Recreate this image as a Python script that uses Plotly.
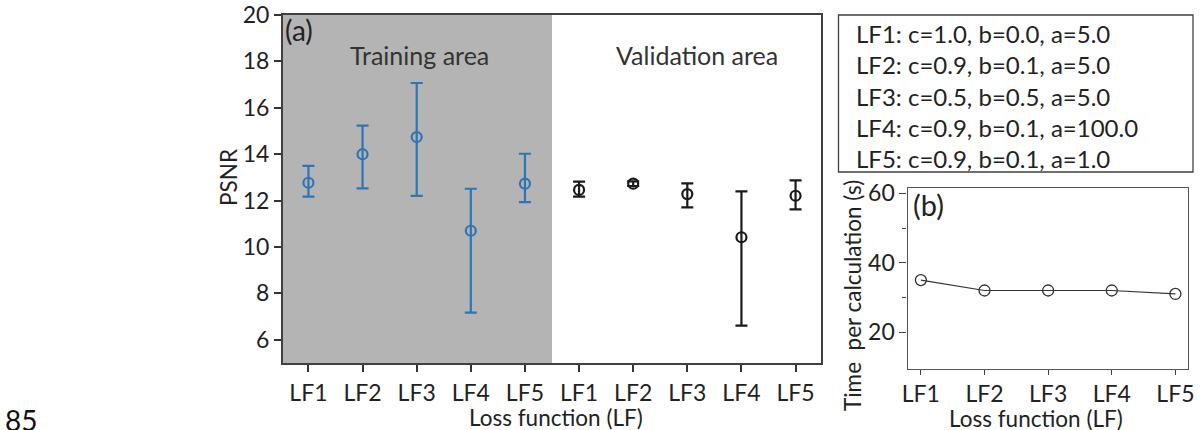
import plotly.graph_objects as go

W, H = 1202, 430

# ---------------- data ----------------
lf_labels = ["LF1", "LF2", "LF3", "LF4", "LF5"]
train_mean = [12.77, 14.0, 14.74, 10.7, 12.73]
train_hi = [13.5, 15.23, 17.07, 12.51, 14.02]
train_lo = [12.17, 12.53, 12.2, 7.17, 11.93]
valid_mean = [12.46, 12.73, 12.28, 10.42, 12.21]
valid_hi = [12.82, 12.83, 12.74, 12.4, 12.87]
valid_lo = [12.17, 12.63, 11.71, 6.61, 11.62]
time_vals = [35, 32, 32, 32, 31]
legend_lines = [
    "LF1: c=1.0, b=0.0, a=5.0",
    "LF2: c=0.9, b=0.1, a=5.0",
    "LF3: c=0.5, b=0.5, a=5.0",
    "LF4: c=0.9, b=0.1, a=100.0",
    "LF5: c=0.9, b=0.1, a=1.0",
]

FONT = "Lato"
BLUE = "#2e75b6"
BLACK = "#1a1a1a"

def px_x(p):
    return p / W

def px_y(p):
    return 1 - p / H

x_train = list(range(1, 6))
x_valid = list(range(6, 11))

fig = go.Figure()

fig.add_trace(go.Scatter(
    x=x_train, y=train_mean, mode="markers",
    marker=dict(symbol="circle-open", size=10, color=BLUE, line=dict(width=2.2, color=BLUE)),
    error_y=dict(type="data", symmetric=False,
                 array=[h - m for h, m in zip(train_hi, train_mean)],
                 arrayminus=[m - l for m, l in zip(train_mean, train_lo)],
                 color=BLUE, thickness=2.2, width=6),
    xaxis="x", yaxis="y", showlegend=False,
))
fig.add_trace(go.Scatter(
    x=x_valid, y=valid_mean, mode="markers",
    marker=dict(symbol="circle-open", size=10, color=BLACK, line=dict(width=2.2, color=BLACK)),
    error_y=dict(type="data", symmetric=False,
                 array=[h - m for h, m in zip(valid_hi, valid_mean)],
                 arrayminus=[m - l for m, l in zip(valid_mean, valid_lo)],
                 color=BLACK, thickness=2.2, width=6),
    xaxis="x", yaxis="y", showlegend=False,
))
fig.add_trace(go.Scatter(
    x=list(range(1, 6)), y=time_vals, mode="lines+markers",
    line=dict(color="#333333", width=1.2),
    marker=dict(symbol="circle-open", size=11, color="#333333", line=dict(width=1.3, color="#333333")),
    xaxis="x2", yaxis="y2", showlegend=False,
))

shapes = [
    dict(type="rect", xref="x", yref="y", x0=0.53, x1=5.5, y0=5, y1=20,
         fillcolor="#b4b4b4", line=dict(width=0), layer="below"),
    dict(type="rect", xref="paper", yref="paper",
         x0=px_x(838.5), x1=px_x(1193), y0=px_y(172), y1=px_y(15),
         line=dict(color="#404040", width=1.3), fillcolor="rgba(0,0,0,0)"),
]

title_font = dict(family=FONT, size=22.5, color="#222")

annotations = [
    dict(text="(a)", xref="paper", yref="paper", x=px_x(283), y=px_y(11),
         xanchor="left", yanchor="top", showarrow=False, font=dict(family=FONT, size=28, color="#222")),
    dict(text="Training area", xref="x", yref="paper", x=3.05, y=px_y(55),
         xanchor="center", yanchor="middle", showarrow=False, font=dict(family=FONT, size=25, color="#333")),
    dict(text="Validation area", xref="x", yref="paper", x=8.17, y=px_y(55),
         xanchor="center", yanchor="middle", showarrow=False, font=dict(family=FONT, size=25, color="#333")),
    dict(text="(b)", xref="paper", yref="paper", x=px_x(911), y=px_y(185),
         xanchor="left", yanchor="top", showarrow=False, font=dict(family=FONT, size=29, color="#222")),
    dict(text="85", xref="paper", yref="paper", x=px_x(3), y=px_y(401),
         xanchor="left", yanchor="top", showarrow=False, font=dict(family=FONT, size=28, color="#111")),
    # axis titles
    dict(text="Loss function (LF)", xref="paper", yref="paper", x=px_x(556), y=px_y(417),
         xanchor="center", yanchor="middle", showarrow=False, font=title_font),
    dict(text="PSNR", xref="paper", yref="paper", x=px_x(228), y=px_y(178),
         xanchor="center", yanchor="middle", textangle=-90, showarrow=False, font=title_font),
    dict(text="Loss function (LF)", xref="paper", yref="paper", x=px_x(1036), y=px_y(418),
         xanchor="center", yanchor="middle", showarrow=False, font=title_font),
    dict(text="Time  per calculation (s)", xref="paper", yref="paper", x=px_x(852), y=px_y(296),
         xanchor="center", yanchor="middle", textangle=-90, showarrow=False, font=title_font),
]
for i, t in enumerate(legend_lines):
    annotations.append(dict(
        text=t, xref="paper", yref="paper", x=px_x(854), y=px_y(33.5 + 31.3 * i),
        xanchor="left", yanchor="middle", showarrow=False,
        font=dict(family=FONT, size=24, color="#222")))

axis_font = dict(family=FONT, size=23, color="#222")

fig.update_layout(
    width=W, height=H,
    margin=dict(l=0, r=0, t=0, b=0, autoexpand=False),
    paper_bgcolor="white", plot_bgcolor="white",
    shapes=shapes, annotations=annotations,
    xaxis=dict(
        domain=[px_x(283), px_x(821)], range=[0.53, 10.47], automargin=False,
        tickmode="array", tickvals=x_train + x_valid, ticktext=lf_labels + lf_labels,
        ticks="outside", ticklen=7, tickwidth=1.5, tickcolor="#333", ticklabelstandoff=1,
        showline=True, linecolor="#404040", linewidth=2, mirror=True,
        showgrid=False, zeroline=False, tickfont=axis_font,
    ),
    yaxis=dict(
        domain=[px_y(363), px_y(15)], range=[5, 20], automargin=False,
        tickmode="array", tickvals=[6, 8, 10, 12, 14, 16, 18, 20],
        ticks="outside", ticklen=7, tickwidth=1.5, tickcolor="#333",
        showline=True, linecolor="#404040", linewidth=2, mirror=True,
        showgrid=False, zeroline=False, tickfont=axis_font,
    ),
    xaxis2=dict(
        domain=[px_x(907.5), px_x(1187.5)], range=[0.79, 5.19], anchor="y2", automargin=False,
        tickmode="array", tickvals=list(range(1, 6)), ticktext=lf_labels,
        ticks="outside", ticklen=5, tickwidth=1.2, tickcolor="#444",
        showline=True, linecolor="#555", linewidth=1.2, mirror=True,
        showgrid=False, zeroline=False, tickfont=axis_font,
    ),
    yaxis2=dict(
        domain=[px_y(368.5), px_y(187.5)], range=[9.5, 61.7], anchor="x2", automargin=False,
        tickmode="array", tickvals=[20, 40, 60],
        ticks="outside", ticklen=7, tickwidth=1.2, tickcolor="#444",
        minor=dict(tickvals=[30, 50], ticks="outside", ticklen=4, tickcolor="#444"),
        showline=True, linecolor="#555", linewidth=1.2, mirror=True,
        showgrid=False, zeroline=False, tickfont=axis_font,
    ),
)

fig.write_html("out.html")
